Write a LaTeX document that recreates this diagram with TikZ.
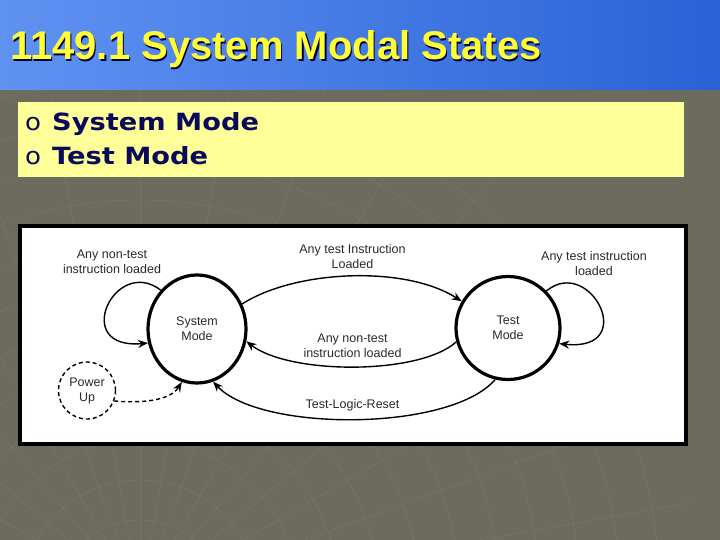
\documentclass[tikz,border=0pt]{standalone}
\usepackage{fontspec}
\setmainfont{Liberation Sans}
\newfontfamily\bulletfont{DejaVu Sans}
\usetikzlibrary{arrows.meta,shapes.geometric}
\definecolor{bgray}{HTML}{6B6B5E}
\definecolor{meshc}{HTML}{8A8A7E}
\definecolor{barL}{HTML}{6092F2}
\definecolor{barR}{HTML}{2A62D6}
\definecolor{titleY}{HTML}{FFFF33}
\definecolor{boxY}{HTML}{FFFF99}
\definecolor{navy}{HTML}{0A0A5A}
\definecolor{txtgray}{HTML}{2A2A2A}
\begin{document}
\begin{tikzpicture}[x=1pt,y=-1pt,
  lbl/.style={font=\fontsize{12.5}{15}\selectfont, text=txtgray, align=center, inner sep=0pt},
  state/.style={draw=black, line width=3.2pt, ellipse, inner sep=0pt,
                font=\fontsize{12.5}{15}\selectfont, text=txtgray, align=center},
  trans/.style={draw=black, line width=1.4pt, -{Stealth[length=10pt,width=8pt]}},
  dtrans/.style={trans, dash pattern=on 4pt off 3pt},
  mesh/.style={draw=meshc, line width=0.5pt, opacity=0.35}
]
\useasboundingbox (0,0) rectangle (720,540);
% background
\fill[bgray] (0,0) rectangle (720,540);
\begin{scope}
  \clip (0,90) rectangle (720,540);
  \foreach \r in {80,120,...,520} {\draw[mesh] (140,600) circle (\r);}
  \foreach \a in {0,10,...,180} {\draw[mesh] (140,600) -- ++(\a:-560);}
\end{scope}
% title bar
\shade[left color=barL, right color=barR] (0,0) rectangle (720,90);
\node[anchor=base west, inner sep=0pt, text=black!75!blue, font=\fontsize{40}{48}\selectfont\bfseries]
  (titleshadow) at (11.2,61.2) {1149.1 System Modal States};
\node[anchor=base west, inner sep=0pt, text=titleY, font=\fontsize{40}{48}\selectfont\bfseries]
  (title) at (10,60) {1149.1 System Modal States};
% bullet box
\fill[boxY] (18,102) rectangle (684,177);
\node[anchor=base west, inner sep=0pt, font=\bulletfont\fontsize{23.7}{28}\selectfont, text=navy]
  (b1o) at (25,131) {\scalebox{1.1}[1]{o}};
\node[anchor=base west, inner sep=0pt, font=\bulletfont\bfseries\fontsize{23.7}{28}\selectfont, text=navy]
  (b1) at (52,131) {\scalebox{1.15}[1]{System Mode}};
\node[anchor=base west, inner sep=0pt, font=\bulletfont\fontsize{23.7}{28}\selectfont, text=navy]
  (b2o) at (25,165) {\scalebox{1.1}[1]{o}};
\node[anchor=base west, inner sep=0pt, font=\bulletfont\bfseries\fontsize{23.7}{28}\selectfont, text=navy]
  (b2) at (52,165) {\scalebox{1.15}[1]{Test Mode}};
% diagram panel
\draw[fill=white, draw=black, line width=4pt] (20,226) rectangle (686,444);
% states
\node[state, minimum width=98pt, minimum height=108pt] (sys) at (197,329) {System\\Mode};
\node[state, minimum width=104pt, minimum height=103pt] (tst) at (508,328) {Test\\Mode};
\node[state, circle, line width=1.4pt, dash pattern=on 4pt off 3pt, minimum size=57pt] (pwr) at (87,390.5) {Power\\Up};
% labels
\node[lbl] (l1) at (112,261.5) {Any non-test\\instruction loaded};
\node[lbl] (l2) at (352.5,256.5) {Any test Instruction\\Loaded};
\node[lbl] (l3) at (352.5,345.5) {Any non-test\\instruction loaded};
\node[lbl] (l4) at (352.5,405) {Test-Logic-Reset};
\node[lbl] (l5) at (594,263.5) {Any test instruction\\loaded};
% transitions
\draw[trans] (sys.133) .. controls (115,255) and (70,350) .. (sys.196);
\draw[trans] (tst.44) .. controls (590,255) and (640,352) .. (tst.-17);
\draw[trans] (sys.29) .. controls (295,270) and (405,265) .. (tst.150);
\draw[trans] (tst.195) .. controls (420,375) and (290,375) .. (sys.-14);
\draw[trans] (tst.256) .. controls (450,432) and (260,432) .. (sys.-73);
\draw[dtrans] (pwr.-21) .. controls (150,404) and (172,398) .. (sys.254);
\end{tikzpicture}
\end{document}
